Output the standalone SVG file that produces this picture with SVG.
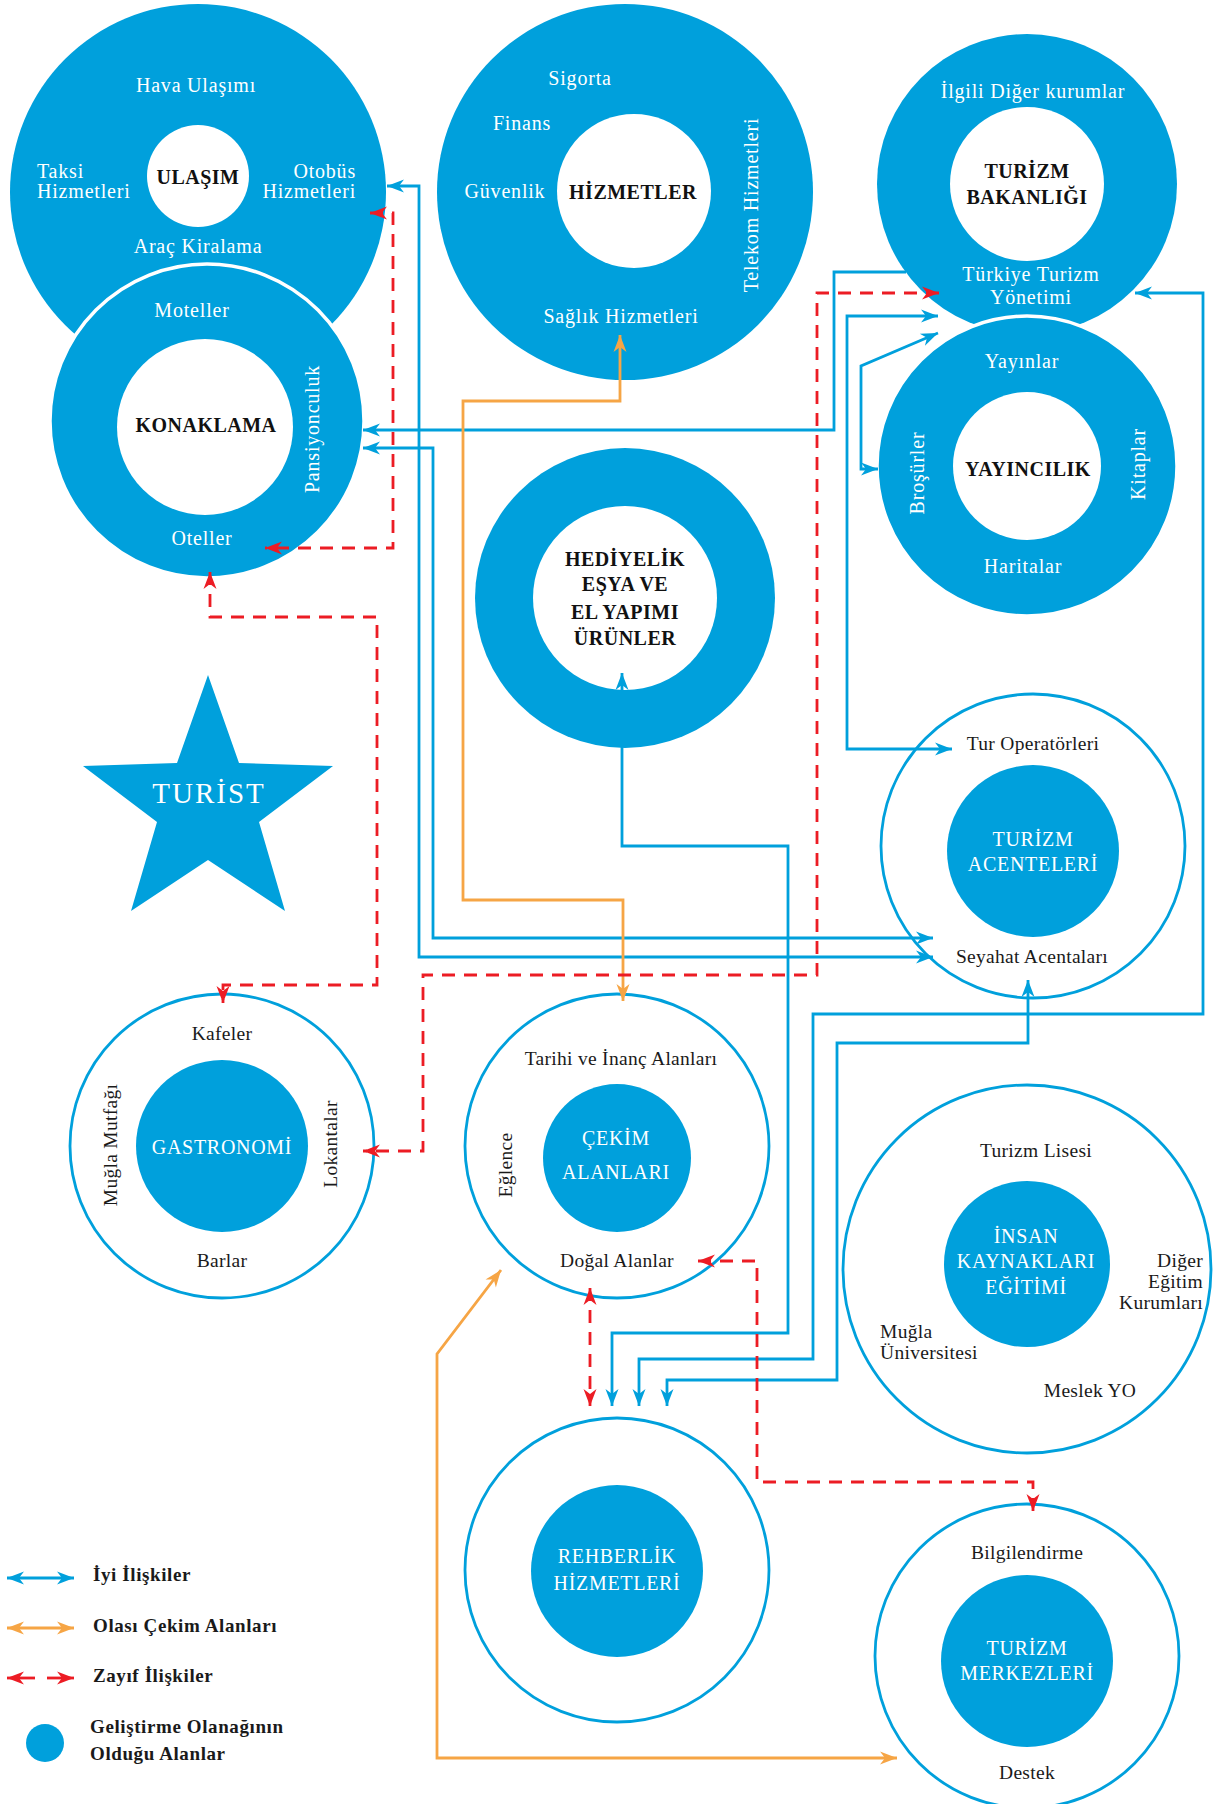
<svg xmlns="http://www.w3.org/2000/svg" width="1213" height="1804" viewBox="0 0 1213 1804">
<style>
text{font-family:"Liberation Serif","Times New Roman",serif}
.fill{fill:#00a0dc}
.hole{fill:#fff}
.ring{fill:#fff;stroke:#00a0dc;stroke-width:2.8}
.sep{stroke:#fff;stroke-width:3.5}
.w{fill:#fff;font-size:20px;letter-spacing:.8px}
.k{fill:#1a1a1a;font-size:19.5px;letter-spacing:.3px}
.b{fill:#111;font-size:20px;font-weight:bold;letter-spacing:.5px}
.c{fill:#fff;font-size:20px;letter-spacing:.7px}
.lg{fill:#1a1a1a;font-size:19px;font-weight:bold;letter-spacing:.6px}
.m{text-anchor:middle}
.e{text-anchor:end}
.blue{fill:none;stroke:#00a0dc;stroke-width:2.8;marker-start:url(#ab);marker-end:url(#ab)}
.orange{fill:none;stroke:#f6a545;stroke-width:2.8;marker-start:url(#ao);marker-end:url(#ao)}
.red{fill:none;stroke:#ec1c24;stroke-width:2.8;stroke-dasharray:13 9;marker-start:url(#ar);marker-end:url(#ar)}
</style>
<defs>
<marker id="ab" viewBox="-19 -8 21 16" refX="0" refY="0" markerWidth="21" markerHeight="16" markerUnits="userSpaceOnUse" orient="auto-start-reverse"><path d="M0,0 L-17,-6.5 L-12,0 L-17,6.5 Z" fill="#00a0dc"/></marker>
<marker id="ao" viewBox="-19 -8 21 16" refX="0" refY="0" markerWidth="21" markerHeight="16" markerUnits="userSpaceOnUse" orient="auto-start-reverse"><path d="M0,0 L-17,-6.5 L-12,0 L-17,6.5 Z" fill="#f6a545"/></marker>
<marker id="ar" viewBox="-19 -8 21 16" refX="0" refY="0" markerWidth="21" markerHeight="16" markerUnits="userSpaceOnUse" orient="auto-start-reverse"><path d="M0,0 L-17,-6.5 L-12,0 L-17,6.5 Z" fill="#ec1c24"/></marker>
</defs>
<rect width="1213" height="1804" fill="#fff"/>

<g id="ulasim">
<circle class="fill" cx="198" cy="192" r="188"/>
<circle class="hole" cx="198" cy="176" r="51"/>
<text class="w m" x="196" y="92">Hava Ulaşımı</text>
<text class="w" x="37" y="178">Taksi</text>
<text class="w" x="37" y="198">Hizmetleri</text>
<text class="b m" x="198" y="184">ULAŞIM</text>
<text class="w e" x="356" y="178">Otobüs</text>
<text class="w e" x="356" y="198">Hizmetleri</text>
<text class="w m" x="198" y="253">Araç Kiralama</text>
</g>

<g id="konaklama">
<circle class="fill sep" cx="207" cy="421" r="157"/>
<circle class="hole" cx="205" cy="427" r="88"/>
<text class="w m" x="192" y="317">Moteller</text>
<text class="b m" x="206" y="432">KONAKLAMA</text>
<text class="w m" transform="translate(319,429) rotate(-90)">Pansiyonculuk</text>
<text class="w m" x="202" y="545">Oteller</text>
</g>

<g id="hizmetler">
<circle class="fill" cx="625" cy="192" r="188"/>
<circle class="hole" cx="634" cy="191" r="77"/>
<text class="w m" x="580" y="85">Sigorta</text>
<text class="w m" x="522" y="130">Finans</text>
<text class="w m" x="505" y="198">Güvenlik</text>
<text class="b m" x="633" y="199">HİZMETLER</text>
<text class="w m" transform="translate(758,205) rotate(-90)">Telekom Hizmetleri</text>
<text class="w m" x="621" y="323">Sağlık Hizmetleri</text>
</g>

<g id="turizm-bakanligi">
<circle class="fill" cx="1027" cy="184" r="150"/>
<circle class="hole" cx="1027" cy="184" r="77"/>
<text class="w m" x="1033" y="98">İlgili Diğer kurumlar</text>
<text class="b m" x="1027" y="178">TURİZM</text>
<text class="b m" x="1027" y="204">BAKANLIĞI</text>
<text class="w m" x="1031" y="281">Türkiye Turizm</text>
<text class="w m" x="1031" y="304">Yönetimi</text>
</g>

<g id="yayincilik">
<circle class="fill sep" cx="1027" cy="466" r="150"/>
<circle class="hole" cx="1027" cy="466" r="74"/>
<text class="w m" x="1022" y="368">Yayınlar</text>
<text class="b m" x="1028" y="476">YAYINCILIK</text>
<text class="w m" transform="translate(924,473) rotate(-90)">Broşürler</text>
<text class="w m" transform="translate(1145,464) rotate(-90)">Kitaplar</text>
<text class="w m" x="1023" y="573">Haritalar</text>
</g>

<g id="hediyelik">
<circle class="fill" cx="625" cy="598" r="150"/>
<circle class="hole" cx="625" cy="598" r="92"/>
<text class="b m" x="625" y="566">HEDİYELİK</text>
<text class="b m" x="625" y="591">EŞYA VE</text>
<text class="b m" x="625" y="619">EL YAPIMI</text>
<text class="b m" x="625" y="645">ÜRÜNLER</text>
</g>

<g id="turist">
<polygon class="fill" points="208,675 239,763 333,766 259,822 285,911 208,860 131,911 157,822 83,766 177,763"/>
<text class="m" x="209" y="803" fill="#fff" font-size="29" letter-spacing="2">TURİST</text>
</g>

<g id="turizm-acenteleri">
<circle class="ring" cx="1033" cy="846" r="152"/>
<circle class="fill" cx="1033" cy="851" r="86"/>
<text class="k m" x="1033" y="750">Tur Operatörleri</text>
<text class="c m" x="1033" y="846">TURİZM</text>
<text class="c m" x="1033" y="871">ACENTELERİ</text>
<text class="k m" x="1032" y="963">Seyahat Acentaları</text>
</g>

<g id="gastronomi">
<circle class="ring" cx="222" cy="1146" r="152"/>
<circle class="fill" cx="222" cy="1146" r="86"/>
<text class="k m" x="222" y="1040">Kafeler</text>
<text class="c m" x="222" y="1154">GASTRONOMİ</text>
<text class="k m" x="222" y="1267">Barlar</text>
<text class="k m" transform="translate(117,1145) rotate(-90)">Muğla Mutfağı</text>
<text class="k m" transform="translate(337,1144) rotate(-90)">Lokantalar</text>
</g>

<g id="cekim-alanlari">
<circle class="ring" cx="617" cy="1146" r="152"/>
<circle class="fill" cx="617" cy="1158" r="74"/>
<text class="k m" x="621" y="1065">Tarihi ve İnanç Alanları</text>
<text class="c m" x="616" y="1145" font-size="21">ÇEKİM</text>
<text class="c m" x="616" y="1179" font-size="21">ALANLARI</text>
<text class="k m" transform="translate(512,1165) rotate(-90)">Eğlence</text>
<text class="k m" x="617" y="1267">Doğal Alanlar</text>
</g>

<g id="rehberlik">
<circle class="ring" cx="617" cy="1570" r="152"/>
<circle class="fill" cx="617" cy="1571" r="86"/>
<text class="c m" x="617" y="1563">REHBERLİK</text>
<text class="c m" x="617" y="1590">HİZMETLERİ</text>
</g>

<g id="insan-kaynaklari">
<circle class="ring" cx="1027" cy="1269" r="184"/>
<circle class="fill" cx="1027" cy="1264" r="83"/>
<text class="k m" x="1036" y="1157">Turizm Lisesi</text>
<text class="c m" x="1026" y="1243">İNSAN</text>
<text class="c m" x="1026" y="1268">KAYNAKLARI</text>
<text class="c m" x="1026" y="1294">EĞİTİMİ</text>
<text class="k e" x="1203" y="1267">Diğer</text>
<text class="k e" x="1203" y="1288">Eğitim</text>
<text class="k e" x="1203" y="1309">Kurumları</text>
<text class="k" x="880" y="1338">Muğla</text>
<text class="k" x="880" y="1359">Üniversitesi</text>
<text class="k m" x="1090" y="1397">Meslek YO</text>
</g>

<g id="turizm-merkezleri">
<circle class="ring" cx="1027" cy="1656" r="152"/>
<circle class="fill" cx="1027" cy="1661" r="86"/>
<text class="k m" x="1027" y="1559">Bilgilendirme</text>
<text class="c m" x="1027" y="1655">TURİZM</text>
<text class="c m" x="1027" y="1680">MERKEZLERİ</text>
<text class="k m" x="1027" y="1779">Destek</text>
</g>

<g id="connectors">
<path class="blue" d="M387,186 H419 V957 H933"/>
<path class="blue" d="M363,448 H433 V938 H933"/>
<path class="blue" style="marker-end:none" d="M363,430 H834 V272 H906"/>
<path class="blue" d="M938,316 H847 V749 H952"/>
<path class="blue" d="M938,333 L861,366 V469 H878"/>
<path class="blue" d="M1135,293 H1203 V1014 H813 V1359 H639 V1406"/>
<path class="blue" d="M622,673 V846 H788 V1333 H612 V1406"/>
<path class="blue" d="M1028,980 V1043 H837 V1380 H667 V1406"/>
<path class="orange" d="M620,335 V401 H463 V900 H623 V1001"/>
<path class="orange" d="M501,1270 L437,1354 V1758 H897"/>
<path class="red" d="M370,213 H393 V548 H265"/>
<path class="red" d="M210,572 V617 H377 V985 H223 V1003"/>
<path class="red" d="M939,293 H817 V975 H423 V1151 H363"/>
<path class="red" d="M590,1288 V1406"/>
<path class="red" d="M698,1261 H757 V1482 H1033 V1511"/>
</g>

<g id="legend">
<path class="blue" d="M7,1578 H74"/>
<text class="lg" x="93" y="1581">İyi İlişkiler</text>
<path class="orange" d="M7,1628 H74"/>
<text class="lg" x="93" y="1632">Olası Çekim Alanları</text>
<path class="red" style="marker-start:none;stroke-dasharray:none" d="M35,1678 H7"/>
<path class="red" style="marker-start:none;stroke-dasharray:none" d="M47,1678 H74"/>
<text class="lg" x="93" y="1682">Zayıf İlişkiler</text>
<circle class="fill" cx="45" cy="1743" r="19"/>
<text class="lg" x="90" y="1733">Geliştirme Olanağının</text>
<text class="lg" x="90" y="1760">Olduğu Alanlar</text>
</g>
</svg>
